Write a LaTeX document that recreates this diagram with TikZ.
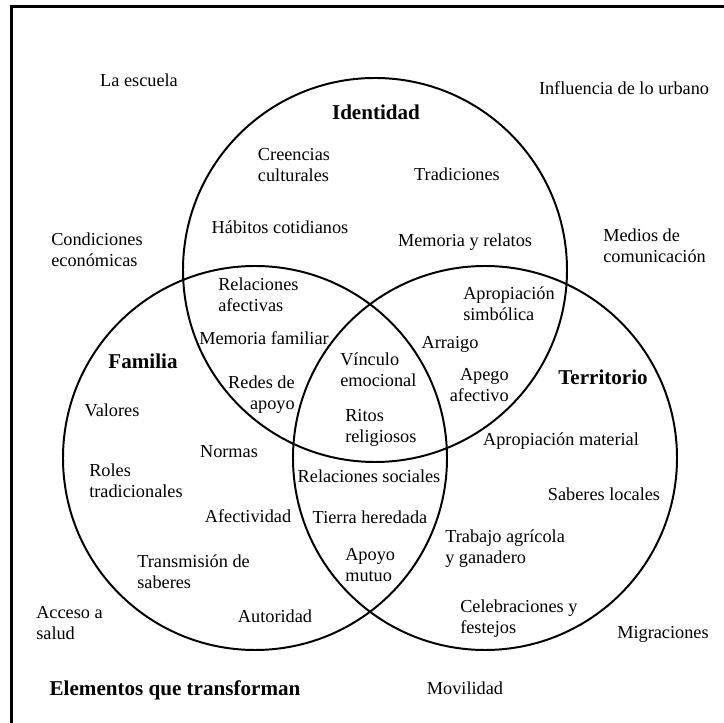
\documentclass[tikz,border=0pt]{standalone}
\usepackage{fontspec}
\setmainfont{Liberation Serif}

\begin{document}
\begin{tikzpicture}[
    txt/.style={font=\fontsize{13}{15}\selectfont,inner sep=0pt},
    txtl/.style={txt,align=left},
    txtr/.style={txt,align=right},
    head/.style={font=\fontsize{15}{17}\selectfont\bfseries,inner sep=0pt},
    ring/.style={line width=1.4pt}]
\useasboundingbox (0,0) rectangle (18.1,18.075);
% frame (only left and top edges show)
\draw [line width=2.1pt] (0.29,0) |- (18.1,17.91);
\coordinate (cI) at (9.375,11.325);
\coordinate (cF) at (6.375,6.625);
\coordinate (cT) at (12.125,6.625);
\draw [ring] (cI) circle (4.8);
\draw [ring] (cF) circle (4.8);
\draw [ring] (cT) circle (4.8);
% headings
\node [head] (identidad) at (9.400,15.275) {Identidad};
\node [head] (familia) at (3.575,9.050) {Familia};
\node [head] (territorio) at (15.075,8.650) {Territorio};
\node [head] (elementos) at (4.375,0.825) {Elementos que transforman};
% outside
\node [txt] (escuela) at (3.475,16.075) {La escuela};
\node [txt] (urbano) at (15.600,15.875) {Influencia de lo urbano};
\node [txtl,anchor=west] (condiciones) at (1.275,11.825)
    {Condiciones\\econ\'omicas};
\node [txtl,anchor=west] (medios) at (15.075,11.925)
    {Medios de\\comunicaci\'on};
\node [txtl,anchor=west] (acceso) at (0.900,2.500)
    {Acceso a\\salud};
\node [txt] (migraciones) at (16.575,2.225) {Migraciones};
\node [txt] (movilidad) at (11.625,0.875) {Movilidad};
% identidad
\node [txtl] (creencias) at (7.350,13.950) {Creencias\\culturales};
\node [txt] (tradiciones) at (11.425,13.725) {Tradiciones};
\node [txt] (habitos) at (7.000,12.400) {H\'abitos cotidianos};
\node [txt] (relatos) at (11.625,12.025) {Memoria y relatos};
% identidad y familia
\node [txtl,anchor=west] (afectivas) at (5.450,10.700)
    {Relaciones\\afectivas};
\node [txt] (memfam) at (6.600,9.625) {Memoria familiar};
\node [txtr,anchor=east] (redes) at (7.375,8.200) {Redes de\\apoyo};
% identidad y territorio
\node [txtl,anchor=west] (simbolica) at (11.575,10.475)
    {Apropiaci\'on\\simb\'olica};
\node [txt] (arraigo) at (11.250,9.475) {Arraigo};
\node [txtr,anchor=east] (apego) at (12.725,8.450) {Apego\\afectivo};
% centro
\node [txtl,anchor=west] (vinculo) at (8.500,8.838) {V\'inculo\\emocional};
\node [txtl,anchor=west] (ritos) at (8.625,7.388) {Ritos\\religiosos};
% familia
\node [txt] (valores) at (2.800,7.825) {Valores};
\node [txt] (normas) at (5.725,6.775) {Normas};
\node [txtl,anchor=west] (roles) at (2.225,6.050)
    {Roles\\tradicionales};
\node [txt] (afectividad) at (6.200,5.175) {Afectividad};
\node [txtl,anchor=west] (transmision) at (3.425,3.788)
    {Transmisi\'on de\\saberes};
\node [txt] (autoridad) at (6.875,2.675) {Autoridad};
% familia y territorio
\node [txt] (sociales) at (9.225,6.175) {Relaciones sociales};
\node [txt] (tierra) at (9.250,5.150) {Tierra heredada};
\node [txtl,anchor=west] (mutuo) at (8.625,3.950) {Apoyo\\mutuo};
% territorio
\node [txt] (material) at (14.025,7.050) {Apropiaci\'on material};
\node [txt] (saberes) at (15.100,5.725) {Saberes locales};
\node [txtl,anchor=west] (trabajo) at (11.125,4.350)
    {Trabajo agr\'icola\\y ganadero};
\node [txtl,anchor=west] (celebraciones) at (11.500,2.600)
    {Celebraciones y\\festejos};
\end{tikzpicture}
\end{document}
